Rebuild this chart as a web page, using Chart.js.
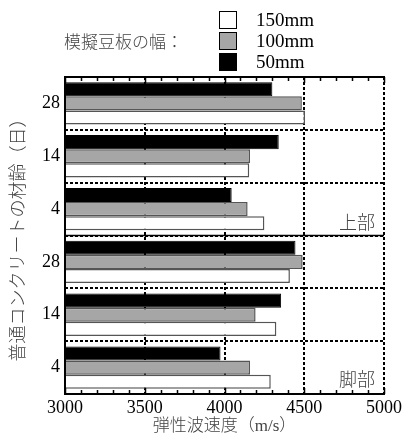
<!DOCTYPE html>
<html>
<head>
<meta charset="utf-8">
<script src="https://cdn.jsdelivr.net/npm/chart.js@4"></script>
<style>
  html, body { margin: 0; padding: 0; background: #fff; }
  #wrap { width: 406px; height: 437px; }
</style>
</head>
<body>
<div id="wrap"><canvas id="chart" width="406" height="437"></canvas></div>
<script>
// categories (top to bottom): upper part 28/14/4, foot part 28/14/4
const ages = ["28", "14", "4", "28", "14", "4"];
const parts = ["上部", "脚部"];
const seriesNames = ["50mm", "100mm", "150mm"];

// elastic wave velocity (m/s)
const v50 = [4300, 4340, 4045, 4445, 4355, 3975];
const v100 = [4485, 4160, 4145, 4490, 4195, 4160];
const v150 = [4505, 4155, 4250, 4410, 4325, 4290];

const xTicks = [3000, 3500, 4000, 4500, 5000];

const serif = "'Liberation Serif', 'Noto Sans CJK JP', serif";

const framePlugin = {
    id: "frame",
    afterDraw: function(chart){
        const ctx = chart.ctx;
        const a = chart.chartArea;
        const xs = chart.scales.x;
        const ys = chart.scales.y;
        ctx.save();
        ctx.strokeStyle = "#000";
        ctx.lineWidth = 2;
        ctx.beginPath();
        ctx.moveTo(a.left, a.top); ctx.lineTo(a.right + 1, a.top);
        ctx.moveTo(a.left, a.bottom); ctx.lineTo(a.right + 1, a.bottom);
        ctx.moveTo(a.left, a.top - 1); ctx.lineTo(a.left, a.bottom + 1);
        ctx.stroke();

        // minor ticks on top and bottom edges
        ctx.lineWidth = 1.5;
        ctx.beginPath();
        for(let v = xTicks[0]; v <= xTicks[xTicks.length-1]; v += 100){
            const x = Math.round(xs.getPixelForValue(v)) + 0.5;
            const len = (v % 500 == 0) ? 6 : 4;
            ctx.moveTo(x, a.top); ctx.lineTo(x, a.top + len);
            ctx.moveTo(x, a.bottom); ctx.lineTo(x, a.bottom - len);
        }
        ctx.stroke();

        // solid separator between upper and foot parts
        const ySep = (ys.getPixelForValue(2) + ys.getPixelForValue(3)) / 2;
        ctx.lineWidth = 1.5;
        ctx.beginPath();
        ctx.moveTo(a.left, ySep); ctx.lineTo(a.right, ySep);
        ctx.stroke();

        // part labels
        ctx.fillStyle = "#444";
        ctx.font = "300 18px " + serif;
        ctx.textAlign = "right";
        ctx.textBaseline = "alphabetic";
        const step = ys.getPixelForValue(1) - ys.getPixelForValue(0);
        ctx.fillText(parts[0], a.right - 9, ys.getPixelForValue(2) + step / 2 - 7);
        ctx.fillText(parts[1], a.right - 9, ys.getPixelForValue(5) + step / 2 - 8);

        // legend
        ctx.textAlign = "left";
        ctx.textBaseline = "middle";
        ctx.fillStyle = "#444";
        ctx.font = "300 17px " + serif;
        ctx.fillText("模擬豆板の幅：", 64, 44);
        const order = [2, 1, 0];
        order.forEach(function(di, i){
            const ds = chart.data.datasets[di];
            const by = 11 + i * 21;
            ctx.fillStyle = ds.backgroundColor;
            ctx.fillRect(219, by, 18, 18);
            ctx.strokeStyle = "#000";
            ctx.lineWidth = 1;
            ctx.strokeRect(219.5, by + 0.5, 17, 17);
            ctx.fillStyle = "#000";
            ctx.font = "19px " + serif;
            ctx.fillText(ds.label, 256, by + 10);
        });
        ctx.restore();
    }
};

const dataSets = {
    labels: ages,
    datasets: [
        { label: seriesNames[0], data: v50, backgroundColor: "#000000", borderColor: "#000000", borderWidth: 1 },
        { label: seriesNames[1], data: v100, backgroundColor: "#a6a6a6", borderColor: "#555555", borderWidth: 1.5 },
        { label: seriesNames[2], data: v150, backgroundColor: "#ffffff", borderColor: "#555555", borderWidth: 1.5 },
    ],
};

let latestChart = new Chart(document.getElementById("chart"), {
    type: "bar",
    data: dataSets,
    plugins: [framePlugin],
    options: {
        indexAxis: "y",
        responsive: false,
        animation: false,
        devicePixelRatio: 1,
        layout: { padding: { top: 77, right: 22, left: 0, bottom: 0 } },
        datasets: { bar: { categoryPercentage: 0.8, barPercentage: 1.0, borderSkipped: "start" } },
        plugins: { legend: { display: false }, tooltip: { enabled: false } },
        scales: {
            x: {
                min: 3000,
                max: 5000,
                afterFit: function(s){ s.height = 43; },
                afterBuildTicks: function(s){ s.ticks = xTicks.map(function(v){ return { value: v }; }); },
                ticks: {
                    color: "#000",
                    font: { family: serif, size: 18 },
                    padding: 3,
                    maxRotation: 0,
                    callback: function(v){ return String(v); },
                },
                grid: {
                    drawTicks: false,
                    lineWidth: 2,
                    color: function(c){ return c.tick && c.tick.value == 3000 ? "rgba(0,0,0,0)" : "#000"; },
                },
                border: { display: false, dash: [3, 2] },
                title: {
                    display: true,
                    text: "弾性波速度（m/s）",
                    color: "#444",
                    font: { family: serif, size: 17, weight: "300" },
                    padding: { top: 0, bottom: 0 },
                },
            },
            y: {
                afterFit: function(s){ s.width = 65; },
                ticks: { color: "#000", font: { family: serif, size: 18 }, padding: 5 },
                grid: { drawTicks: false, offset: true, lineWidth: 2, color: "#000" },
                border: { display: false, dash: [3, 2] },
                title: {
                    display: true,
                    text: "普通コンクリートの材齢（日）",
                    color: "#444",
                    font: { family: serif, size: 18, weight: "300" },
                    padding: { top: 8, bottom: 0 },
                },
            },
        },
    },
});
</script>
</body>
</html>
